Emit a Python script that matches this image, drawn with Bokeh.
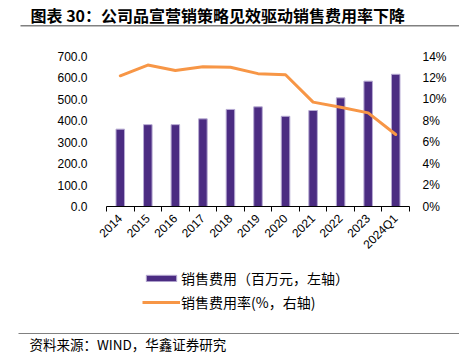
from bokeh.plotting import figure
from bokeh.layouts import column
from bokeh.models import (Range1d, LinearAxis, FixedTicker, NumeralTickFormatter, PrintfTickFormatter,
                          Legend, LegendItem, Label, BoxAnnotation, ColumnDataSource)
from bokeh.embed import file_html
from bokeh.resources import INLINE
import math

# ---- data ----
categories = ["2014", "2015", "2016", "2017", "2018", "2019", "2020", "2021", "2022", "2023", "2024Q1"]
sales_expense = [361, 382, 382, 409, 453, 465, 421, 448, 507, 585, 617]          # 百万元
sales_expense_rate = [12.2, 13.2, 12.7, 13.05, 13.0, 12.4, 12.3, 9.74, 9.27, 8.74, 6.72]  # %
left_ticks = [0, 100, 200, 300, 400, 500, 600, 700]
right_ticks = [0, 2, 4, 6, 8, 10, 12, 14]

title_text = "图表 30：公司品宣营销策略见效驱动销售费用率下降"
source_text = "资料来源：WIND，华鑫证券研究"
bar_label = "销售费用（百万元，左轴）"
line_label = "销售费用率(%，右轴)"

BAR = "#4B2C82"
BAR_EDGE = "#b7abd3"
ORANGE = "#F79646"
RULE = "#808080"
CJK = "Noto Sans CJK SC"
NUM = "Liberation Sans"

W = 459
HEAD_H, MAIN_H, FOOT_H = 40, 226, 98
L, R, T, B = 106, 50, 16, 60

n = len(categories)
idx = list(range(n))


def blank(fig):
    fig.outline_line_color = None
    fig.xgrid.grid_line_color = None
    fig.ygrid.grid_line_color = None
    fig.background_fill_color = "white"
    fig.border_fill_color = "white"


src = ColumnDataSource(dict(x=idx, val=sales_expense, rate=sales_expense_rate))

# ---------------- header ----------------
head = figure(width=W, height=HEAD_H, output_backend="svg", toolbar_location=None, title=None,
              x_range=Range1d(0, 1), y_range=Range1d(0, 1),
              x_axis_location=None, y_axis_location=None,
              min_border=0, frame_align=False)
blank(head)
head.line(x="x", y="rate", source=src, line_color=ORANGE, visible=False)
head.add_layout(Label(x=30, y=HEAD_H - 14, x_units="screen", y_units="screen", text=title_text,
                      text_font=CJK, text_font_size="16px", text_font_style="bold",
                      text_baseline="middle", text_color="#000000"))
head.add_layout(BoxAnnotation(left=20, right=W, bottom=HEAD_H - 26, top=HEAD_H - 24.5,
                              left_units="screen", right_units="screen",
                              bottom_units="screen", top_units="screen",
                              fill_color=RULE, fill_alpha=1, line_color=None))

# ---------------- main chart ----------------
p = figure(width=W, height=MAIN_H, output_backend="svg", toolbar_location=None,
           x_range=Range1d(-0.5, n - 0.5), y_range=Range1d(left_ticks[0], left_ticks[-1]),
           x_axis_location=None, y_axis_location=None, frame_align=False,
           min_border_left=L, min_border_right=R, min_border_top=T, min_border_bottom=B)
blank(p)
p.extra_y_ranges = {"pct": Range1d(right_ticks[0], right_ticks[-1])}

bars = p.vbar(x="x", top="val", width=0.31, source=src, fill_color=BAR,
              line_color=BAR_EDGE, line_width=1)
line = p.line(x="x", y="rate", source=src, y_range_name="pct", line_color=ORANGE,
              line_width=3, line_join="round", line_cap="round")

la = LinearAxis(ticker=FixedTicker(ticks=left_ticks), formatter=NumeralTickFormatter(format="0.0"))
la.axis_line_color = None
la.major_tick_line_color = None
la.major_tick_out = 0
la.major_tick_in = 0
la.minor_tick_line_color = None
la.major_label_standoff = 19
la.major_label_text_font = NUM
la.major_label_text_font_size = "12px"
la.major_label_text_color = "#000000"
p.add_layout(la, "left")

ra = LinearAxis(y_range_name="pct", ticker=FixedTicker(ticks=right_ticks),
                formatter=PrintfTickFormatter(format="%d%%"))
ra.axis_line_color = None
ra.major_tick_line_color = None
ra.major_tick_out = 0
ra.major_tick_in = 0
ra.minor_tick_line_color = None
ra.major_label_standoff = 13
ra.major_label_text_font = NUM
ra.major_label_text_font_size = "12px"
ra.major_label_text_color = "#000000"
p.add_layout(ra, "right")

ta = LinearAxis(ticker=FixedTicker(ticks=[i - 0.5 for i in range(n + 1)], minor_ticks=[]))
ta.axis_line_color = "black"
ta.axis_line_width = 1
ta.major_tick_line_color = "black"
ta.major_tick_in = 0
ta.major_tick_out = 5
ta.minor_tick_line_color = None
ta.major_label_overrides = {i - 0.5: " " for i in range(n + 1)}
ta.major_label_text_font_size = "1px"
ta.major_label_standoff = 0
p.add_layout(ta, "below")

ca = LinearAxis(ticker=FixedTicker(ticks=idx, minor_ticks=[]),
                major_label_overrides={i: c for i, c in zip(idx, categories)})
ca.axis_line_color = None
ca.major_tick_line_color = None
ca.major_tick_out = 0
ca.major_tick_in = 0
ca.minor_tick_line_color = None
ca.major_label_orientation = math.pi / 4
ca.major_label_standoff = 1
ca.major_label_text_font = NUM
ca.major_label_text_font_size = "12px"
ca.major_label_text_color = "#000000"
p.add_layout(ca, "below")

# ---------------- footer: legend + source ----------------
foot = figure(width=W, height=FOOT_H, output_backend="svg", toolbar_location=None, title=None,
              x_range=Range1d(0, 1), y_range=Range1d(0, 1),
              x_axis_location=None, y_axis_location=None,
              min_border=0, frame_align=False)
blank(foot)
# legend keys: same series styles, hidden in the footer (only their legend swatches show)
bar_key = foot.vbar(x="x", top="val", width=0.31, source=src, fill_color=BAR,
                    line_color=BAR_EDGE, line_width=1, visible=False)
line_key = foot.line(x="x", y="rate", source=src, line_color=ORANGE, line_width=3, visible=False)
legend = Legend(items=[LegendItem(label=bar_label, renderers=[bar_key]),
                       LegendItem(label=line_label, renderers=[line_key])],
                location=(142, FOOT_H - 46), orientation="vertical",
                glyph_width=38, glyph_height=8, label_height=20, spacing=4,
                padding=0, margin=0, label_standoff=1,
                border_line_color=None, background_fill_alpha=0, inactive_fill_alpha=0,
                label_text_font=CJK, label_text_font_size="14px", label_text_color="#000000")
foot.add_layout(legend, "center")
foot.add_layout(BoxAnnotation(left=18, right=W, bottom=FOOT_H - 67.6, top=FOOT_H - 66.4,
                              left_units="screen", right_units="screen",
                              bottom_units="screen", top_units="screen",
                              fill_color=RULE, fill_alpha=1, line_color=None))
foot.add_layout(Label(x=29, y=FOOT_H - 77, x_units="screen", y_units="screen", text=source_text,
                      text_font=CJK, text_font_size="13.5px",
                      text_baseline="middle", text_color="#000000"))

layout = column(head, p, foot, spacing=0)
open("out.html", "w").write(file_html(layout, INLINE))
